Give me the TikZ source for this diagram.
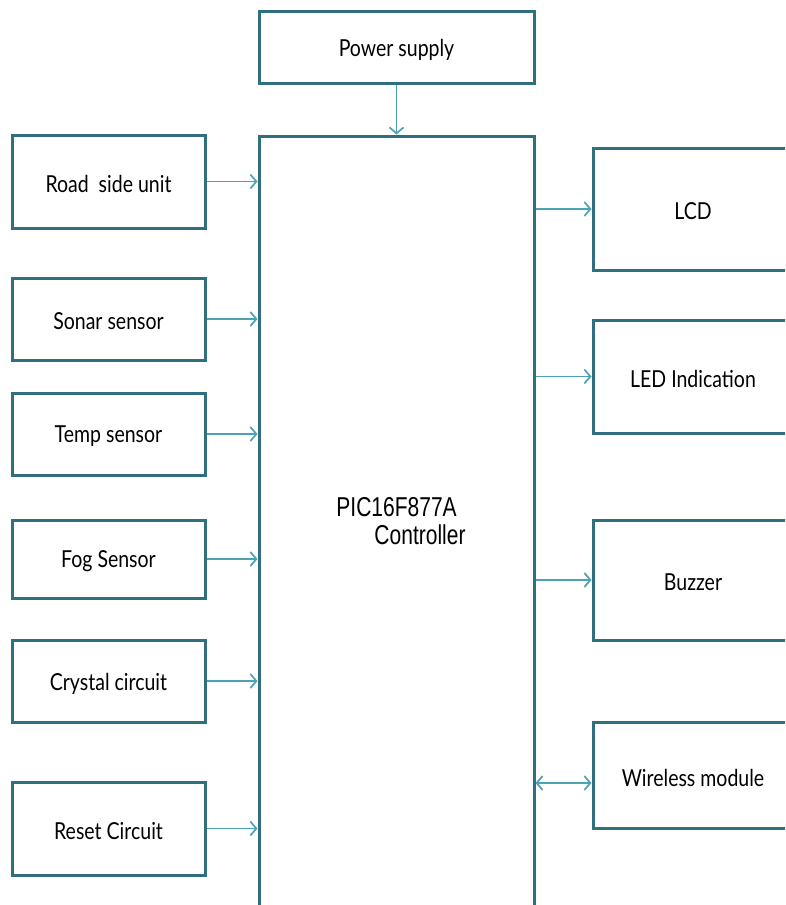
\documentclass[tikz,border=0pt]{standalone}
\usepackage{fontspec}
\setmainfont{Lato}
\newfontfamily\arialfont{Liberation Sans}
\usetikzlibrary{arrows.meta}
\definecolor{boxline}{HTML}{2F6F7F}
\definecolor{arrline}{HTML}{4DA2B4}
\newcommand{\stretchtxt}[1]{\raisebox{-2.5pt}[\height][\depth]{\scalebox{1}[1.2]{#1}}}
\newcommand{\stretchctl}[1]{\scalebox{1}[1.3]{#1}}
\begin{document}
\begin{tikzpicture}[x=1pt,y=-1pt,
  box/.style={draw=boxline, line width=3pt, fill=white, inner sep=0pt, text=black,
    font=\fontsize{19.5}{22}\selectfont},
  arr/.style={draw=arrline, line width=1.7pt,
    -{Straight Barb[length=6pt,width=14pt,line width=1.7pt]}},
  darr/.style={draw=arrline, line width=1.7pt,
    {Straight Barb[length=6pt,width=14pt,line width=1.7pt]}-{Straight Barb[length=6pt,width=14pt,line width=1.7pt]}}]
\useasboundingbox (0,0) rectangle (785,905);
\clip (0,0) rectangle (785,905);
\fill[white] (0,0) rectangle (785,905);
% controller
\node[box, minimum width=275pt, minimum height=790pt] (ctrl) at (396.5,531) {};
\node[font=\arialfont\fontsize{21}{23}\selectfont, align=left, inner sep=0pt] (ctrltxt) at (401,521)
  {\stretchctl{PIC16F877A}\\[5pt]\hspace{38pt}\stretchctl{Controller}};
% power
\node[box, minimum width=275pt, minimum height=72pt] (pwr) at (396.5,47) {\stretchtxt{Power supply}};
% left boxes
\node[box, minimum width=193pt, minimum height=93pt] (road) at (108.5,181.5) {\stretchtxt{Road\ \ side unit}};
\node[box, minimum width=193pt, minimum height=82pt] (sonar) at (108.5,319) {\stretchtxt{Sonar sensor}};
\node[box, minimum width=193pt, minimum height=82pt] (temp) at (108.5,434) {\stretchtxt{Temp sensor}};
\node[box, minimum width=193pt, minimum height=78pt] (fog) at (108.5,559) {\stretchtxt{Fog Sensor}};
\node[box, minimum width=193pt, minimum height=82pt] (crys) at (108.5,681) {\stretchtxt{Crystal circuit}};
\node[box, minimum width=193pt, minimum height=93pt] (reset) at (108.5,828.5) {\stretchtxt{Reset Circuit}};
% right boxes
\node[box, minimum width=200pt, minimum height=122pt] (lcd) at (693,209) {\stretchtxt{LCD}};
\node[box, minimum width=200pt, minimum height=113pt] (led) at (693,376.5) {\stretchtxt{LED Indication}};
\node[box, minimum width=200pt, minimum height=120pt] (buz) at (693,580) {\stretchtxt{Buzzer}};
\node[box, minimum width=200pt, minimum height=106pt] (wl) at (693,775) {\stretchtxt{Wireless module}};
% arrows
\draw[arr] (pwr.south) -- (pwr.south |- ctrl.north);
\foreach \n in {road,sonar,temp,fog,crys,reset}
  \draw[arr] (\n.east) -- (\n.east -| ctrl.west);
\foreach \n in {lcd,led,buz}
  \draw[arr] (\n.west -| ctrl.east) -- (\n.west);
\draw[darr] ([yshift=-8pt]wl.west -| ctrl.east) -- ([yshift=-8pt]wl.west);
\end{tikzpicture}
\end{document}
